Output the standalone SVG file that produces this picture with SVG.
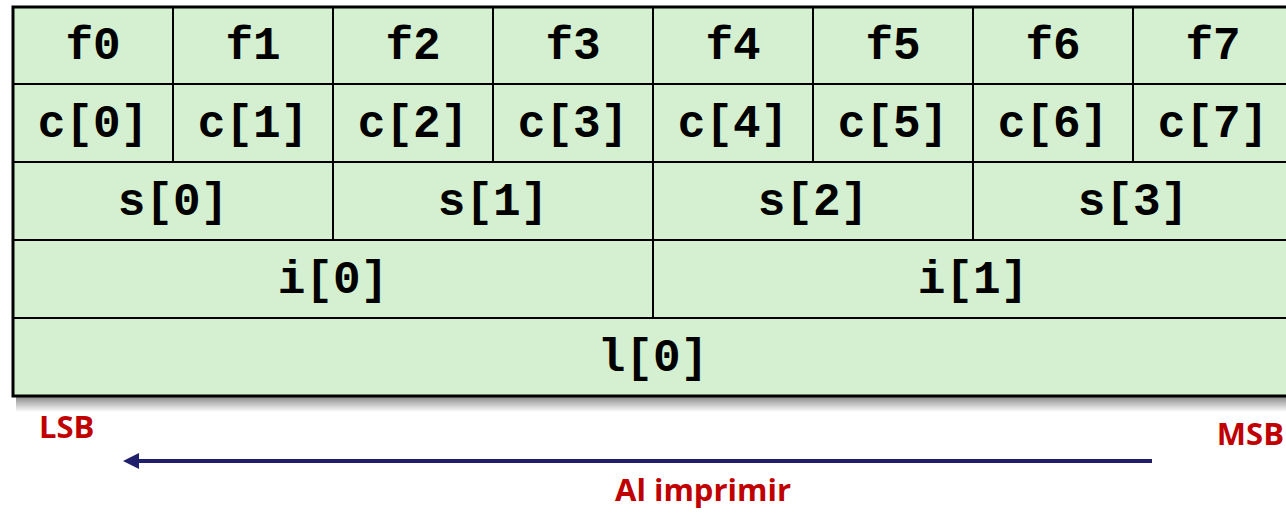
<svg xmlns="http://www.w3.org/2000/svg" width="1286" height="513" viewBox="0 0 1286 513">
<defs>
<style>
.cell{fill:#d5f0d0;stroke:#000;stroke-width:2}
.t{font-family:"Liberation Mono",monospace;font-weight:bold;font-size:46px;fill:#000;text-anchor:middle}
.lbl{font-family:"Open Sans","Liberation Sans",sans-serif;font-weight:bold;font-size:31px;fill:#c00000}
</style>
<linearGradient id="sh" x1="0" y1="0" x2="0" y2="1">
<stop offset="0" stop-color="#000" stop-opacity="0.45"/>
<stop offset="1" stop-color="#000" stop-opacity="0"/>
</linearGradient>
<marker id="ah" markerWidth="4" markerHeight="4" refX="0" refY="2" orient="auto" markerUnits="strokeWidth" viewBox="0 0 4 4">
<path d="M0,0 L4,2 L0,4 Z" fill="#1f1f6b"/>
</marker>
</defs>
<rect x="0" y="0" width="1286" height="513" fill="#fff"/>
<rect x="16" y="397" width="1280" height="15" fill="url(#sh)"/>
<g id="row-f">
<g id="f0"><rect class="cell" x="13" y="7" width="160" height="77"/><text class="t" x="93" y="59">f0</text></g>
<g id="f1"><rect class="cell" x="173" y="7" width="160" height="77"/><text class="t" x="253" y="59">f1</text></g>
<g id="f2"><rect class="cell" x="333" y="7" width="160" height="77"/><text class="t" x="413" y="59">f2</text></g>
<g id="f3"><rect class="cell" x="493" y="7" width="160" height="77"/><text class="t" x="573" y="59">f3</text></g>
<g id="f4"><rect class="cell" x="653" y="7" width="160" height="77"/><text class="t" x="733" y="59">f4</text></g>
<g id="f5"><rect class="cell" x="813" y="7" width="160" height="77"/><text class="t" x="893" y="59">f5</text></g>
<g id="f6"><rect class="cell" x="973" y="7" width="160" height="77"/><text class="t" x="1053" y="59">f6</text></g>
<g id="f7"><rect class="cell" x="1133" y="7" width="160" height="77"/><text class="t" x="1213" y="59">f7</text></g>
</g>
<g id="row-c">
<g id="c0"><rect class="cell" x="13" y="84" width="160" height="78"/><text class="t" x="93" y="137">c[0]</text></g>
<g id="c1"><rect class="cell" x="173" y="84" width="160" height="78"/><text class="t" x="253" y="137">c[1]</text></g>
<g id="c2"><rect class="cell" x="333" y="84" width="160" height="78"/><text class="t" x="413" y="137">c[2]</text></g>
<g id="c3"><rect class="cell" x="493" y="84" width="160" height="78"/><text class="t" x="573" y="137">c[3]</text></g>
<g id="c4"><rect class="cell" x="653" y="84" width="160" height="78"/><text class="t" x="733" y="137">c[4]</text></g>
<g id="c5"><rect class="cell" x="813" y="84" width="160" height="78"/><text class="t" x="893" y="137">c[5]</text></g>
<g id="c6"><rect class="cell" x="973" y="84" width="160" height="78"/><text class="t" x="1053" y="137">c[6]</text></g>
<g id="c7"><rect class="cell" x="1133" y="84" width="160" height="78"/><text class="t" x="1213" y="137">c[7]</text></g>
</g>
<g id="row-s">
<g id="s0"><rect class="cell" x="13" y="162" width="320" height="78"/><text class="t" x="173" y="215">s[0]</text></g>
<g id="s1"><rect class="cell" x="333" y="162" width="320" height="78"/><text class="t" x="493" y="215">s[1]</text></g>
<g id="s2"><rect class="cell" x="653" y="162" width="320" height="78"/><text class="t" x="813" y="215">s[2]</text></g>
<g id="s3"><rect class="cell" x="973" y="162" width="320" height="78"/><text class="t" x="1133" y="215">s[3]</text></g>
</g>
<g id="row-i">
<g id="i0"><rect class="cell" x="13" y="240" width="640" height="78"/><text class="t" x="333" y="293">i[0]</text></g>
<g id="i1"><rect class="cell" x="653" y="240" width="640" height="78"/><text class="t" x="973" y="293">i[1]</text></g>
</g>
<g id="row-l">
<g id="l0"><rect class="cell" x="13" y="318" width="1280" height="78"/><text class="t" x="653" y="371">l[0]</text></g>
</g>
<rect x="13" y="7" width="1290" height="389" fill="none" stroke="#000" stroke-width="3"/>
<g id="connectors">
<line x1="1152" y1="461" x2="139" y2="461" stroke="#1f1f6b" stroke-width="4" marker-end="url(#ah)"/>
</g>
<g id="labels">
<text class="lbl" x="39" y="438">LSB</text>
<text class="lbl" x="1284" y="445" text-anchor="end">MSB</text>
<text class="lbl" x="703" y="501" text-anchor="middle">Al imprimir</text>
</g>
</svg>
